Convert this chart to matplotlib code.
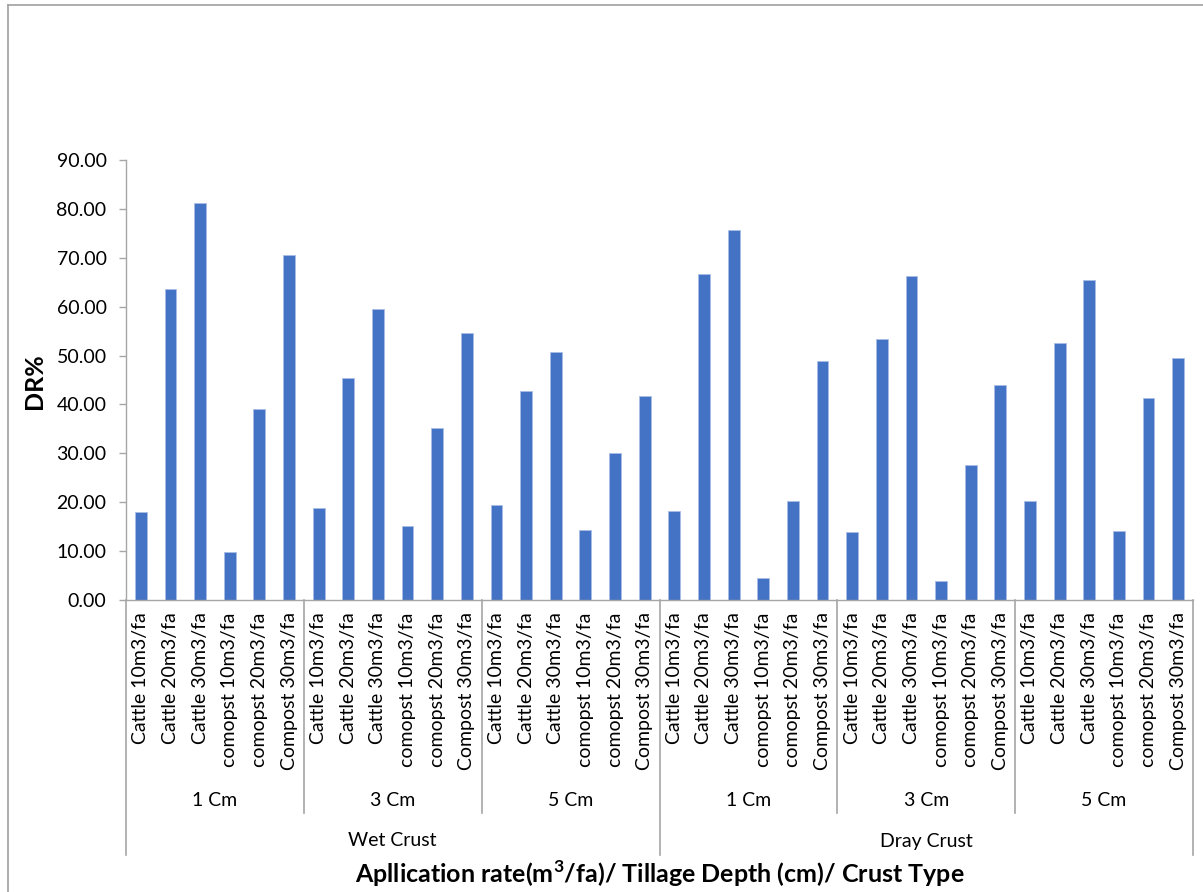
import matplotlib
matplotlib.use("Agg")
import matplotlib.pyplot as plt
from matplotlib.lines import Line2D
import matplotlib.transforms as mtransforms

plt.rcParams["font.family"] = ["Lato", "DejaVu Sans"]

rates = ["Cattle 10m3/fa", "Cattle 20m3/fa", "Cattle 30m3/fa",
         "comopst 10m3/fa", "comopst 20m3/fa", "Compost 30m3/fa"]
depths = ["1 Cm", "3 Cm", "5 Cm"]
crusts = ["Wet Crust", "Dray Crust"]

wet_1cm = [17.9, 63.6, 81.2, 9.9, 39.0, 70.6]
wet_3cm = [18.8, 45.5, 59.6, 15.1, 35.2, 54.6]
wet_5cm = [19.4, 42.7, 50.7, 14.3, 30.0, 41.8]
dry_1cm = [18.3, 66.7, 75.7, 4.6, 20.2, 48.9]
dry_3cm = [14.0, 53.3, 66.3, 3.9, 27.6, 44.0]
dry_5cm = [20.2, 52.5, 65.5, 14.1, 41.3, 49.5]

values = wet_1cm + wet_3cm + wet_5cm + dry_1cm + dry_3cm + dry_5cm
labels = rates * (len(depths) * len(crusts))
x = list(range(len(values)))

W, H = 1203, 892
fig = plt.figure(figsize=(W / 100, H / 100), dpi=100)
ax = fig.add_axes([126 / W, 1 - 600 / H, (1193 - 126) / W, 440 / H])

ax.bar(x, values, width=0.4, color="#4472C4", edgecolor="#A9BDE6", linewidth=0.6)
ax.set_xlim(-0.5, len(values) - 0.5)
ax.set_ylim(0, 90)
ax.set_yticks(range(0, 91, 10))
ax.set_yticklabels([f"{v:.2f}" for v in range(0, 91, 10)])

ax.set_xticks(x)
ax.set_xticklabels(labels, rotation=90, va="top", ha="center")
ax.tick_params(axis="x", length=0, pad=9, labelsize=14)
ax.tick_params(axis="y", length=5, width=1, color="#A6A6A6", pad=9, labelsize=14)

for side in ("top", "right"):
    ax.spines[side].set_visible(False)
for side in ("left", "bottom"):
    ax.spines[side].set_color("#A6A6A6")
    ax.spines[side].set_linewidth(1)

# category separators below the axis: data x, figure y
trans = mtransforms.blended_transform_factory(ax.transData, fig.transFigure)
y_axis = 1 - 600 / H
y_depth = 1 - 813 / H
y_crust = 1 - 855 / H
n = len(rates)
for g in range(len(depths) * len(crusts) + 1):
    xb = g * n - 0.5
    bottom = y_crust if g % len(depths) == 0 else y_depth
    ax.add_line(Line2D([xb, xb], [y_axis, bottom], transform=trans,
                       color="#A6A6A6", lw=1.2, clip_on=False))

for g in range(len(depths) * len(crusts)):
    xc = g * n + (n - 1) / 2
    ax.text(xc, 1 - 800 / H, depths[g % len(depths)], transform=trans,
            ha="center", va="center", fontsize=14)
for c, name in enumerate(crusts):
    xc = c * n * len(depths) + (n * len(depths) - 1) / 2
    ax.text(xc, 1 - 841 / H, name, transform=trans,
            ha="center", va="center", fontsize=14)

fig.text(660 / W, 1 - 874 / H,
         "Apllication rate(m$^{\\mathregular{3}}$/fa)/ Tillage Depth (cm)/ Crust Type",
         ha="center", va="center", fontsize=18, fontweight="bold")
fig.text(35 / W, 1 - 381 / H, "DR%", rotation=90, ha="center", va="center",
         fontsize=18, fontweight="bold")

# chart-area frame along the left and top edges
fig.add_artist(Line2D([7.5 / W, 7.5 / W], [0, 1 - 4.5 / H], transform=fig.transFigure,
                      color="#A0A0A0", lw=1.2))
fig.add_artist(Line2D([7.5 / W, 1], [1 - 4.5 / H, 1 - 4.5 / H], transform=fig.transFigure,
                      color="#A0A0A0", lw=1.2))

fig.savefig("out.png", dpi=100, facecolor="white")
